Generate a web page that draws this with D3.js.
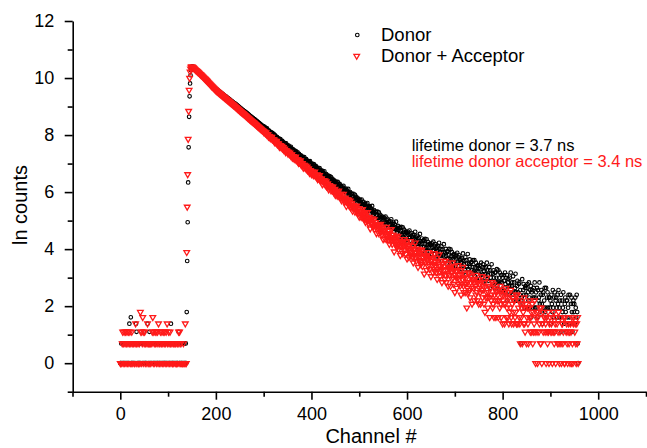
<!DOCTYPE html>
<meta charset="utf-8">
<script src="https://d3js.org/d3.v7.min.js"></script>
<body style="margin:0;background:#fff">
<svg width="647" height="448"></svg>
<script>
    // tick values of both axes
    var xTicks = [0, 200, 400, 600, 800, 1000], xMinor = [-100, 100, 300, 500, 700, 900, 1100];
    var yTicks = [0, 2, 4, 6, 8, 10, 12],       yMinor = [-1, 1, 3, 5, 7, 9, 11];

    var legendLabels = ['Donor', 'Donor + Acceptor'];
    var notes = ['lifetime donor = 3.7 ns', 'lifetime donor acceptor = 3.4 ns'];

    // photon counts per channel, channel 0 .. 958
    var donorCounts = [
        1,1,2,1,0,1,2,1,1,2, 1,0,1,2,1,2,1,1,2,4,
        1,2,5,1,1,2,1,1,2,1, 0,1,2,4,3,1,2,1,1,2,
        1,1,2,1,0,2,1,2,1,3, 1,2,1,1,2,1,2,4,1,2,
        1,3,1,2,1,1,2,0,1,2, 1,1,2,1,0,1,2,1,1,2,
        1,2,1,1,2,1,0,1,2,1, 1,2,1,1,2,1,1,2,1,0,
        1,2,1,1,2,1,4,1,2,1, 1,2,1,1,0,2,1,1,2,1,
        1,2,3,1,1,2,1,2,1,1, 2,1,0,1,2,1,1,2,1,6,
        36,140,567,1940,5650,11600,18200,24300,29000,31900, 32800,32900,32600,32100,31600,31000,30500,30000,29500,29000,
        28560,28200,27700,27400,26900,26600,26200,25800,25400,25000, 24600,24200,23800,23400,23000,22700,22300,21900,21600,21300,
        20960,20600,20200,19900,19600,19200,18900,18600,18300,18000, 17700,17400,17100,16800,16500,16300,16000,15700,15500,15300,
        15070,14900,14700,14500,14300,14100,13900,13700,13600,13400, 13230,13000,12900,12700,12500,12300,12200,12000,11800,11700,
        11600,11500,11300,11100,11000,10800,10700,10600,10400,10300, 10200,10000,9900,9780,9640,9510,9380,9260,9150,9030,
        8950,8830,8720,8600,8500,8380,8260,8140,8020,7900, 7790,7680,7580,7480,7370,7280,7180,7090,6990,6910,
        6840,6740,6660,6570,6480,6390,6300,6210,6130,6040, 5940,5870,5790,5710,5630,5560,5490,5420,5350,5280,
        5220,5150,5080,5010,4940,4870,4810,4740,4670,4610, 4540,4480,4420,4360,4300,4240,4180,4130,4070,4030,
        4020,3866,3966,3708,3826,3688,3668,3770,3520,3430, 3482,3495,3355,3188,3325,3300,3163,3160,3217,3013,
        2998,3098,2883,2934,2943,2819,2688,2795,2769,2666, 2666,2531,2639,2557,2470,2579,2430,2361,2420,2423,
        2227,2302,2297,2218,2132,2236,2150,2232,2047,2064, 2069,1964,2060,1879,1981,1887,1896,1976,1811,1752,
        1806,1824,1739,1617,1732,1723,1633,1640,1680,1541, 1539,1621,1474,1520,1536,1455,1368,1466,1456,1390,
        1399,1302,1393,1335,1281,1372,1266,1217,1279,1283, 1142,1209,1207,1161,1100,1181,1130,1191,1068,1085,
        1092,1012,1087,1040,999,1074,986,949,1000,1010, 896,949,952,909,863,927,882,939,832,844,
        855,797,858,755,819,770,778,836,736,709, 745,760,709,642,718,716,663,671,707,623,
        627,682,594,627,642,595,546,605,604,568, 579,524,579,548,520,576,515,490,529,537,
        456,498,502,473,441,491,460,504,428,439, 450,410,457,384,433,399,407,451,381,363,
        392,404,369,321,379,380,342,350,379,318, 323,367,302,329,342,308,273,319,320,295,
        305,266,308,287,268,310,267,250,280,287, 228,261,266,246,224,263,240,275,219,229,
        238,209,246,191,230,206,213,248,195,183, 205,215,191,158,201,201,176,183,203,162,
        166,198,153,172,182,160,136,170,171,154, 162,135,166,152,138,171,140,129,151,158,
        115,140,144,131,115,145,130,155,116,123, 131,112,138,100,129,111,117,143,106,98,
        115,123,106,83,115,115,97,103,119,89, 92,117,84,100,108,91,73,100,101,88,
        96,76,100,90,81,105,82,74,91,96, 65,84,89,79,67,90,78,100,69,75,
        82,66,87,59,81,68,73,93,64,59, 72,79,66,46,73,75,59,65,78,53,
        57,77,51,64,70,58,44,65,66,57, 63,46,67,58,51,71,53,46,61,65,
        40,56,59,51,42,61,52,68,44,49, 55,43,60,36,54,44,49,65,42,37,
        49,55,43,33,50,51,39,44,55,35, 38,54,33,43,49,38,30,44,46,38,
        42,30,45,39,33,48,35,30,41,44, 25,37,39,34,27,40,34,47,29,32,
        36,27,41,22,37,29,33,46,27,24, 33,38,29,21,34,35,26,29,37,23,
        25,37,21,29,34,25,19,30,31,25, 28,19,31,27,22,34,23,20,29,32,
        17,25,28,23,18,29,23,34,19,22, 26,18,29,14,26,20,23,32,18,15,
        23,26,20,14,24,24,17,20,27,15, 17,26,13,20,24,17,13,22,22,17,
        20,12,22,18,14,24,16,12,20,22, 9,17,19,15,11,20,15,24,12,15,
        17,11,21,9,17,12,14,23,12,9, 15,18,12,9,16,17,11,13,2,9,
        10,19,8,13,16,11,7,14,15,11, 14,7,16,12,9,17,10,7,13,15,
        5,12,13,10,7,14,10,17,7,10, 12,7,14,5,13,9,10,17,8,6,
        11,13,8,4,11,12,7,9,14,6, 7,14,5,10,12,7,3,10,10,7,
        9,4,11,8,6,13,7,5,10,12, 3,9,10,7,5,11,8,13,5,7,
        9,5,11,3,9,6,7,12,5,4, 8,10,6,3,9,9,5,7,11,4,
        5,11,4,8,10,6,3,8,9,6, 8,4,10,7,5,11,6,2,1
    ];

    var acceptorCounts = [
        1,1,0,1,2,3,1,2,3,1, 2,3,1,2,3,1,2,3,1,2,
        3,1,2,1,3,2,1,0,2,1, 1,2,4,1,2,1,0,2,1,1,
        2,1,6,3,1,3,2,5,1,3, 2,3,1,2,1,0,2,4,1,2,
        1,2,1,2,1,0,2,3,5,1, 3,2,1,3,2,3,1,2,3,1,
        4,2,1,2,3,1,2,3,1,2, 3,1,2,3,1,2,3,1,4,2,
        1,3,2,1,3,2,1,0,2,1, 1,2,1,0,2,1,2,1,1,2,
        1,2,3,1,3,2,1,2,1,0, 1,1,2,1,1,0,4,1,1,49,
        240,750,2590,6900,14500,22000,27500,30500,32300,32800, 32700,32400,32000,31500,31000,30500,30000,29500,29000,28600,
        28250,27800,27400,26900,26500,26100,25600,25200,24800,24400, 24060,23660,23260,22870,22480,22100,21730,21360,21000,20640,
        20290,19930,19570,19220,18870,18530,18200,17870,17550,17230, 16920,16630,16350,16070,15800,15530,15260,15000,14750,14500,
        14260,14060,13860,13670,13480,13290,13100,12920,12740,12560, 12380,12210,12040,11870,11700,11540,11380,11220,11060,10910,
        10760,10610,10460,10310,10170,10030,9890,9750,9610,9480, 9343,9210,9080,8950,8830,8700,8580,8460,8340,8230,
        8113,7990,7870,7750,7640,7520,7410,7300,7190,7080, 6975,6880,6780,6680,6590,6500,6410,6320,6230,6140,
        6057,5970,5880,5790,5700,5620,5530,5450,5370,5290, 5206,5130,5060,4990,4920,4850,4780,4720,4650,4590,
        4525,4460,4390,4320,4260,4190,4130,4070,4010,3950, 3888,3830,3780,3730,3670,3620,3570,3520,3470,3420,
        3412,3228,3357,3239,3129,3258,3064,2963,3041,3044, 2788,2876,2867,2764,2654,2770,2670,2770,2535,2552,
        2557,2422,2536,2309,2420,2311,2307,2414,2194,2128, 2188,2208,2096,1951,2091,2074,1956,1960,2028,1849,
        1845,1948,1761,1813,1837,1731,1629,1732,1724,1647, 1660,1540,1642,1576,1515,1607,1483,1428,1495,1504,
        1338,1411,1413,1349,1279,1370,1310,1389,1231,1244, 1260,1179,1261,1109,1196,1130,1135,1222,1074,1039,
        1085,1107,1031,941,1038,1038,961,970,1016,903, 905,982,857,899,920,852,785,867,861,811,
        753,815,821,775,727,802,753,820,704,721, 736,674,745,631,706,653,664,730,621,592,
        633,650,597,526,609,609,552,563,603,514, 519,582,486,525,543,493,441,508,508,470,
        483,425,486,453,425,486,422,397,439,449, 363,408,415,385,353,407,375,424,343,356,
        368,327,378,300,355,319,328,377,302,284, 315,329,294,246,307,308,270,279,309,248,
        253,297,234,261,275,242,208,254,256,230, 241,202,246,225,206,250,206,190,221,229,
        169,202,209,189,167,207,185,221,165,176, 185,157,193,141,180,155,163,198,147,134,
        157,168,144,112,155,156,131,138,159,118, 122,154,110,130,140,119,95,130,131,114,
        121,95,126,113,99,132,101,91,113,120, 77,102,106,93,78,108,92,118,79,87,
        95,76,103,65,94,77,83,109,73,65, 82,90,73,50,82,83,65,71,87,57,
        62,85,54,69,77,61,44,70,72,60, 67,47,71,61,52,77,54,46,64,69,
        39,57,61,52,41,63,52,72,43,49, 55,42,61,34,55,44,48,68,41,36,
        48,55,42,29,49,51,37,42,54,32, 35,53,30,41,47,36,23,43,44,35,
        41,26,44,37,30,49,32,27,40,44, 21,36,38,31,24,40,32,47,25,30,
        35,24,40,19,36,27,30,45,25,21, 30,36,26,17,32,33,23,26,36,19,
        22,36,17,27,32,23,15,28,29,22, 27,15,29,24,19,34,20,16,26,30,
        12,22,25,20,14,25,20,31,16,19, 22,15,26,11,23,16,19,29,15,12,
        20,23,16,12,20,7,14,17,24,12, 13,23,10,17,21,14,8,18,19,14,
        17,9,19,15,11,22,12,9,17,19, 8,14,16,12,8,17,13,21,10,13,
        15,8,17,6,15,10,12,20,10,7, 12,15,10,5,14,14,9,11,17,7,
        8,16,5,11,14,9,5,12,13,9, 11,5,13,9,7,15,8,5,11,13,
        4,9,11,8,4,12,8,14,5,7, 10,5,12,4,10,6,7,13,5,4,
        8,10,6,4,9,9,5,6,11,4, 4,11,4,7,9,5,4,2,8,5,
        7,2,8,6,4,10,4,3,7,8, 2,5,7,4,2,7,5,9,3,5,
        6,3,8,2,6,3,4,9,3,1, 5,6,3,1,5,6,3,4,7,2,
        2,7,1,4,6,3,0,5,5,3, 4,1,5,3,2,6,3,1,4,5,
        0,3,4,3,1,5,3,6,2,3, 4,1,5,0,4,2,3,6,2,1,
        3,5,2,1,4,4,2,3,5,1, 1,5,0,3,4,2,1,3,4,2,
        3,1,4,3,1,5,2,1,4,5, 0,3,4,2,1,4,2,5,1
    ];

    var font = '"Liberation Sans", Arial, Helvetica, sans-serif';
    var svg  = d3.select('svg');
    var x    = d3.scaleLinear().domain([-100, 1100]).range([72.5, 646]);
    var y    = d3.scaleLinear().domain([-1, 12]).range([391.7, 21]);

    // ln of counts, empty channels are dropped
    function lnPoints(counts){
        return counts.map(function(n, i){ return {c: i, n: n}; })
            .filter(function(d){ return d.n > 0; })
            .map(function(d){ return {c: d.c, v: Math.log(d.n)}; });
    }

    function styleAxis(g){
        g.selectAll('path, line').attr('stroke', '#000').attr('stroke-width', 1.6);
        g.selectAll('text').attr('font-family', font).attr('font-size', 18).attr('fill', '#000');
    }

    // axes: minor ticks first, then the labelled major ticks
    svg.append('g').attr('transform', 'translate(0,391.7)')
        .call(d3.axisBottom(x).tickValues(xMinor).tickSize(5).tickSizeOuter(0).tickFormat(''))
        .call(styleAxis);
    svg.append('g').attr('transform', 'translate(0,391.7)')
        .call(d3.axisBottom(x).tickValues(xTicks).tickSize(8).tickSizeOuter(0).tickPadding(7.5).tickFormat(d3.format('d')))
        .call(styleAxis)
        .call(function(g){ g.select('.domain').remove(); });

    svg.append('g').attr('transform', 'translate(72.7,0)')
        .call(d3.axisLeft(y).tickValues(yMinor).tickSize(5).tickSizeOuter(0).tickFormat(''))
        .call(styleAxis);
    svg.append('g').attr('transform', 'translate(72.7,0)')
        .call(d3.axisLeft(y).tickValues(yTicks).tickSize(8).tickSizeOuter(0).tickPadding(10.5).tickFormat(d3.format('d')))
        .call(styleAxis)
        .call(function(g){ g.select('.domain').remove(); });

    svg.append('text')
        .attr('transform', 'translate(27,205) rotate(-90)')
        .attr('text-anchor', 'middle')
        .attr('font-family', font).attr('font-size', 20)
        .text('ln counts');

    svg.append('text')
        .attr('x', 371).attr('y', 443)
        .attr('text-anchor', 'middle')
        .attr('font-family', font).attr('font-size', 20)
        .text('Channel #');

    var tri = d3.symbol().type(d3.symbolTriangle).size(14);

    // donor: open black circles
    svg.append('g').selectAll('circle')
        .data(lnPoints(donorCounts))
        .join('circle')
        .attr('cx', function(d){ return x(d.c); })
        .attr('cy', function(d){ return y(d.v); })
        .attr('r', 1.8)
        .attr('fill', 'none')
        .attr('stroke', '#000')
        .attr('stroke-width', 1.1);

    // donor + acceptor: open red down triangles, drawn on top
    svg.append('g').selectAll('path')
        .data(lnPoints(acceptorCounts))
        .join('path')
        .attr('d', tri)
        .attr('transform', function(d){ return 'translate(' + x(d.c) + ',' + y(d.v) + ') rotate(180)'; })
        .attr('fill', 'none')
        .attr('stroke', '#ff1a1a')
        .attr('stroke-width', 1.3);

    // legend
    var legend = svg.append('g');
    legend.append('circle').attr('cx', 357.3).attr('cy', 35).attr('r', 1.8)
        .attr('fill', 'none').attr('stroke', '#000').attr('stroke-width', 1.1);
    legend.append('path').attr('d', tri).attr('transform', 'translate(356.7,56) rotate(180)')
        .attr('fill', 'none').attr('stroke', '#ff1a1a').attr('stroke-width', 1.3);
    legend.selectAll('text')
        .data(legendLabels)
        .join('text')
        .attr('x', 381)
        .attr('y', function(d, i){ return 40.7 + i * 20.8; })
        .attr('font-family', font).attr('font-size', 18.5)
        .attr('fill', '#000')
        .text(function(d){ return d; });

    // lifetime notes
    svg.selectAll('text.note')
        .data(notes)
        .join('text')
        .attr('class', 'note')
        .attr('x', 411.7)
        .attr('y', function(d, i){ return 150.5 + i * 16.5; })
        .attr('font-family', font).attr('font-size', 16.5)
        .attr('fill', function(d, i){ return i ? '#ff1a1a' : '#000'; })
        .text(function(d){ return d; });
</script>
</body>
